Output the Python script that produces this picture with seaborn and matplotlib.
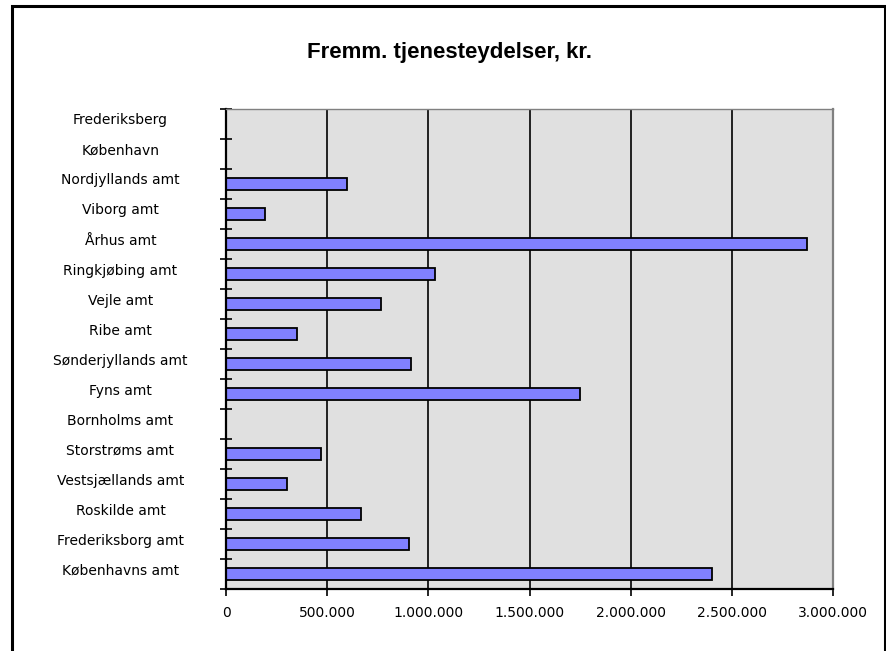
import numpy as np
import pandas as pd
import seaborn as sns
import matplotlib.pyplot as plt
import matplotlib.transforms as mtransforms
from matplotlib.patches import Rectangle

# data
categories = ["Frederiksberg", "København", "Nordjyllands amt", "Viborg amt",
              "Århus amt", "Ringkjøbing amt", "Vejle amt", "Ribe amt",
              "Sønderjyllands amt", "Fyns amt", "Bornholms amt", "Storstrøms amt",
              "Vestsjællands amt", "Roskilde amt", "Frederiksborg amt",
              "Københavns amt"]
values = [0, 0, 600000, 195000, 2870000, 1033000, 768000, 351000,
          913000, 1748000, 0, 470000, 303000, 668000, 906000, 2400000]
x_ticks = [0, 500000, 1000000, 1500000, 2000000, 2500000, 3000000]
title = "Fremm. tjenesteydelser, kr."

sns.set_style("white")
plt.rcParams['font.family'] = ['DejaVu Sans']
plt.rcParams['text.color'] = 'black'
plt.rcParams['xtick.color'] = 'black'
plt.rcParams['ytick.color'] = 'black'

df = pd.DataFrame({'kommune': categories, 'kr': values})

fig = plt.figure(figsize=(8.86, 6.51), dpi=100)
ax = fig.add_axes([0.2551, 0.0945, 0.6851, 0.7383])
ax.set_facecolor('#e0e0e0')

sns.barplot(data=df, x='kr', y='kommune', orient='h', color='#8080ff',
            saturation=1, edgecolor='black', linewidth=1.3, width=0.4, ax=ax)

ax.set_xlim(x_ticks[0], x_ticks[-1])
ax.set_xlabel('')
ax.set_ylabel('')

# x axis: dotted thousands
ax.set_xticks(x_ticks)
ax.set_xticklabels([f"{v:,.0f}".replace(",", ".") for v in x_ticks], fontsize=10)
ax.tick_params(axis='x', bottom=True, direction='out', length=5, width=1.2,
               color='black', labelcolor='black', pad=7)
ax.xaxis.grid(True, color='black', linewidth=1.2)
ax.set_axisbelow(True)

# y axis: labels centered, tick marks between categories
ax.set_yticks(np.arange(len(categories)))
ax.set_yticklabels(categories, fontsize=10, ha='center')
ax.tick_params(axis='y', which='major', left=True, length=0, pad=76, labelcolor='black')
ax.set_yticks(np.arange(len(categories) + 1) - 0.5, minor=True)
ax.tick_params(axis='y', which='minor', left=True, direction='inout', length=8,
               width=1.2, color='black')
offset = mtransforms.ScaledTranslation(0, 5 / 100, fig.dpi_scale_trans)
for lab in ax.get_yticklabels():
    lab.set_transform(lab.get_transform() + offset)

for side in ['left', 'bottom']:
    ax.spines[side].set_color('black')
    ax.spines[side].set_linewidth(1.6)
for side in ['right', 'top']:
    ax.spines[side].set_color('#808080')
    ax.spines[side].set_linewidth(1.6)
ax.spines['top'].set_linewidth(1.0)

fig.text(0.507, 0.920, title, ha='center', va='center', fontsize=16,
         fontweight='bold', family='Liberation Sans', color='black')

# outer chart border
fig.patches.append(Rectangle((11.5 / 886, -0.1), (884.5 - 11.5) / 886, 1.1 - 6 / 651,
                             transform=fig.transFigure, fill=False,
                             edgecolor='black', linewidth=2.2, clip_on=False))

fig.savefig('out.png', dpi=100)
